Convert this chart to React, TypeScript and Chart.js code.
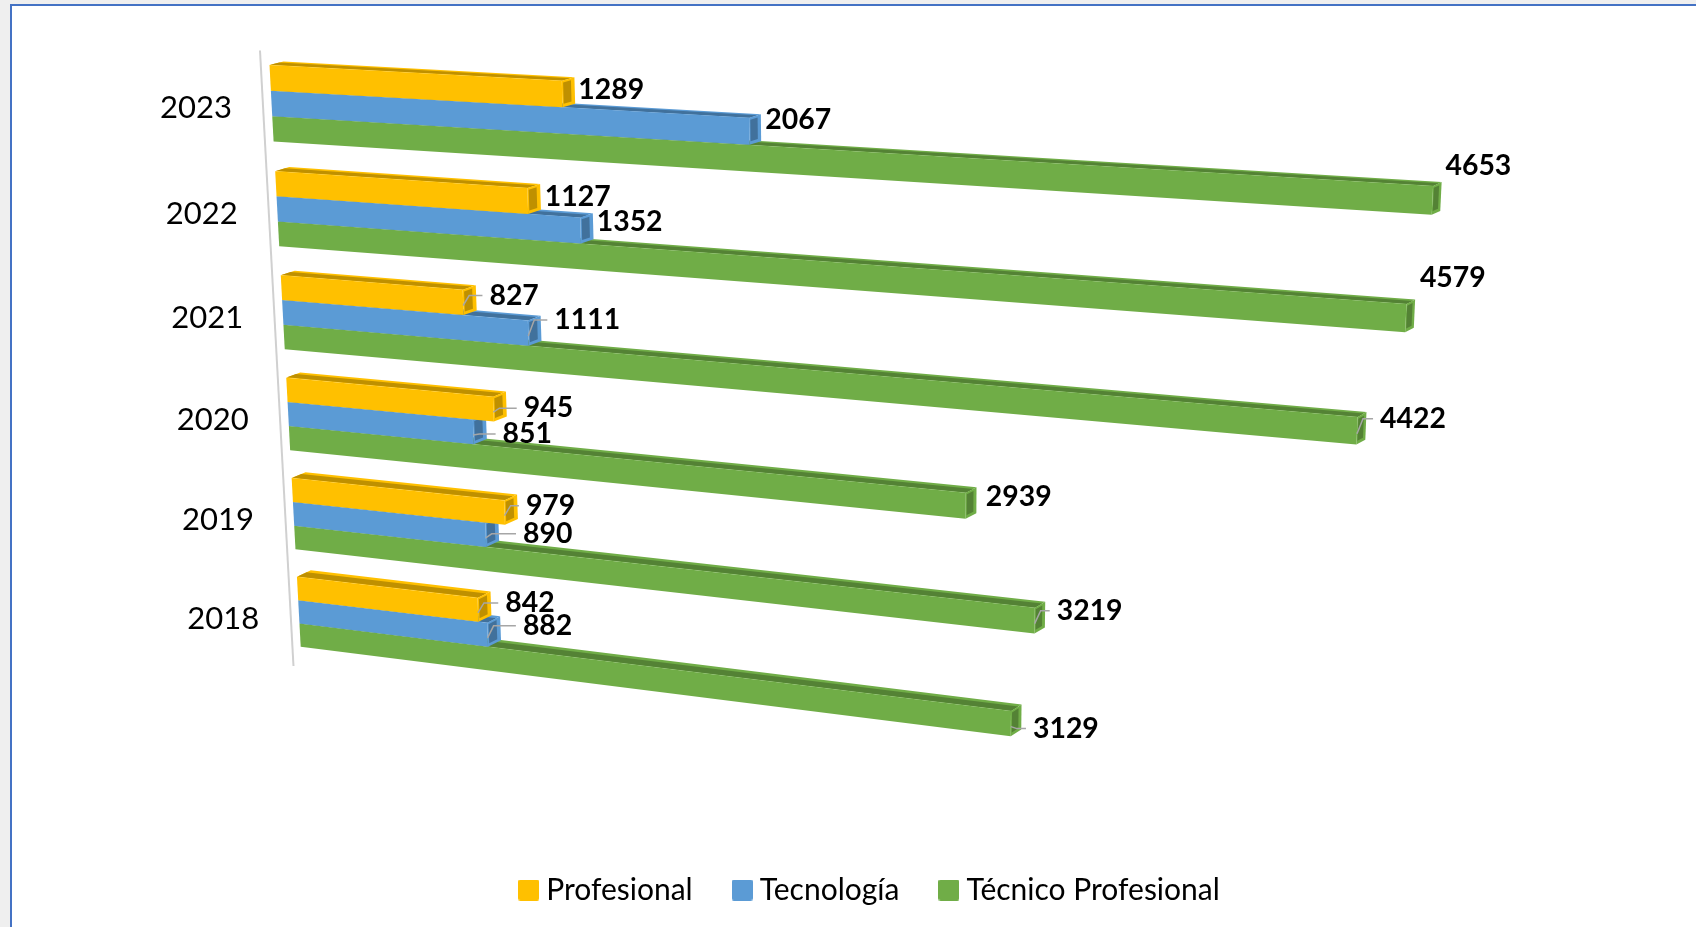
import React, { useEffect, useRef } from "react";
import { Chart, registerables } from "chart.js";

Chart.register(...registerables);

const years = ["2023", "2022", "2021", "2020", "2019", "2018"];
const profesional = [1289, 1127, 827, 945, 979, 842];
const tecnologia = [2067, 1352, 1111, 851, 890, 882];
const tecnicoProfesional = [4653, 4579, 4422, 2939, 3219, 3129];

const COLORS = ["#FFC000", "#5B9BD5", "#70AD47"];
const DARK = ["#BF9000", "#41719C", "#548235"];

// Hand-placed label offsets from the end of each bar: [dx, dy, has leader line]
const offsetsProfesional: [number, number, boolean][] = [[49, -4, false], [50, -4, false], [51, -7, true], [55, -1, true], [46, -7, true], [52, -7, true]];
const offsetsTecnologia: [number, number, boolean][] = [[49, -12, false], [49, -9, false], [59, -13, true], [54, 2, true], [62, -1, true], [60, -9, true]];
const offsetsTecnico: [number, number, boolean][] = [[46, -35, false], [47, -40, false], [56, -12, true], [53, -9, false], [55, -10, true], [55, 5, true]];
const allOffsets = [offsetsProfesional, offsetsTecnologia, offsetsTecnico];

// Perspective view: where the plot rectangle's corners land on screen
const VIEW = { tl: [269.5, 65], tr: [1536.7, 133], br: [1498.7, 797.6], bl: [300.7, 646.7] };

function makeProjector(q: typeof VIEW) {
  const [x0, y0] = q.tl, [x1, y1] = q.tr, [x2, y2] = q.br, [x3, y3] = q.bl;
  const dx1 = x1 - x2, dx2 = x3 - x2, sx = x0 - x1 + x2 - x3;
  const dy1 = y1 - y2, dy2 = y3 - y2, sy = y0 - y1 + y2 - y3;
  const den = dx1 * dy2 - dx2 * dy1;
  const g = (sx * dy2 - dx2 * sy) / den;
  const h = (dx1 * sy - sx * dy1) / den;
  const a = x1 - x0 + g * x1, b = x3 - x0 + h * x3;
  const d = y1 - y0 + g * y1, e = y3 - y0 + h * y3;
  return (s: number, t: number): [number, number] => {
    const w = g * s + h * t + 1;
    return [(a * s + b * t + x0) / w, (d * s + e * t + y0) / w];
  };
}

const poly = (ctx: CanvasRenderingContext2D, pts: number[][], fill: string) => {
  ctx.beginPath();
  pts.forEach((p, i) => (i ? ctx.lineTo(p[0], p[1]) : ctx.moveTo(p[0], p[1])));
  ctx.closePath();
  ctx.fillStyle = fill;
  ctx.fill();
};

const lerp = (a: number[], b: number[], k: number) => [a[0] + (b[0] - a[0]) * k, a[1] + (b[1] - a[1]) * k];

const perspectivePlugin = {
  id: "perspective",
  beforeDatasetsDraw(chart: any) {
    const ctx: CanvasRenderingContext2D = chart.ctx;
    const xs = chart.scales.x, ys = chart.scales.y;
    const metas = [0, 1, 2].map((i) => chart.getDatasetMeta(i).data);
    const first = metas[0][0], last = metas[2][metas[2].length - 1];
    const ya = first.y - first.height / 2, yb = last.y + last.height / 2;
    const span = yb - ya;
    const project = makeProjector(VIEW);
    const P = (px: number, py: number) =>
      project((px - xs.getPixelForValue(0)) / (xs.getPixelForValue(xs.max) - xs.getPixelForValue(0)), (py - ya) / span);
    const depth = (p: number[], t: number) => [p[0] + 14 - 0.0047 * (p[0] - 270), p[1] - 3.5 - 3.3 * t];

    // axis wall line
    const a1 = P(xs.getPixelForValue(-40), ya - span * 0.023), a2 = P(xs.getPixelForValue(-40), yb + span * 0.037);
    ctx.save();
    ctx.strokeStyle = "#D0D0D0";
    ctx.lineWidth = 2;
    ctx.beginPath();
    ctx.moveTo(a1[0], a1[1]);
    ctx.lineTo(a2[0], a2[1]);
    ctx.stroke();

    // category labels
    ctx.font = "31px Lato";
    ctx.fillStyle = "#000";
    ctx.textAlign = "center";
    ctx.textBaseline = "middle";
    years.forEach((label, i) => {
      const p = P(xs.getPixelForValue(0), ys.getPixelForValue(i));
      ctx.fillText(label, p[0] - 75.5, p[1] + 5 + i * 0.4);
    });

    // bars, back to front
    years.forEach((_, i) => {
      for (let ds = 2; ds >= 0; ds--) {
        const el = metas[ds][i];
        const top = el.y - el.height / 2, bot = el.y + el.height / 2;
        const tRow = (top - ya) / span;
        const fl = P(el.base, top), fr = P(el.x, top), brr = P(el.x, bot), bll = P(el.base, bot);
        const bl = depth(fl, tRow), br = depth(fr, tRow), be = depth(brr, tRow);
        // top face
        poly(ctx, [fl, bl, br, fr], COLORS[ds]);
        poly(ctx, [lerp(fl, bl, 0.05), lerp(fl, bl, 0.7), lerp(fr, br, 0.7), lerp(fr, br, 0.05)], DARK[ds]);
        // end face
        poly(ctx, [fr, br, be, brr], COLORS[ds]);
        const i1 = lerp(fr, brr, 0.08), i2 = lerp(br, be, 0.08), i3 = lerp(br, be, 0.88), i4 = lerp(fr, brr, 0.88);
        poly(ctx, [lerp(i1, i2, 0.1), lerp(i1, i2, 0.72), lerp(i4, i3, 0.72), lerp(i4, i3, 0.1)], DARK[ds]);
        // front face
        poly(ctx, [fl, fr, brr, bll], COLORS[ds]);
      }
    });

    // data labels and leader lines
    ctx.font = "bold 28.4px Lato";
    ctx.textAlign = "center";
    [profesional, tecnologia, tecnicoProfesional].forEach((vals, ds) => {
      vals.forEach((v, i) => {
        const el = metas[ds][i];
        const end = P(el.x, el.y);
        const [dx, dy, leader] = allOffsets[ds][i];
        const lx = end[0] + dx, ly = end[1] + dy;
        const txt = String(v);
        if (leader) {
          const w = ctx.measureText(txt).width;
          ctx.strokeStyle = "#A6A6A6";
          ctx.lineWidth = 1.5;
          ctx.beginPath();
          ctx.moveTo(end[0], end[1] + 3);
          ctx.lineTo(end[0] + 6, ly);
          ctx.lineTo(lx - w / 2 - 7, ly);
          ctx.stroke();
        }
        ctx.fillStyle = "#000";
        ctx.fillText(txt, lx, ly);
      });
    });
    ctx.restore();
    return false;
  },
};

function legendSwatch(color: string) {
  const c = document.createElement("canvas");
  c.width = 21;
  c.height = 21;
  const g = c.getContext("2d")!;
  g.fillStyle = color;
  g.beginPath();
  g.roundRect(0, 0, 21, 21, 2);
  g.fill();
  return c;
}

export default function App() {
  const ref = useRef<HTMLCanvasElement>(null);
  useEffect(() => {
    const chart = new Chart(ref.current!, {
      type: "bar",
      data: {
        labels: years,
        datasets: [
          { label: "Profesional", data: profesional, backgroundColor: COLORS[0] },
          { label: "Tecnología", data: tecnologia, backgroundColor: COLORS[1] },
          { label: "Técnico Profesional", data: tecnicoProfesional, backgroundColor: COLORS[2] },
        ],
      },
      options: {
        indexAxis: "y",
        responsive: false,
        animation: false,
        layout: { padding: { left: 50, right: 0, top: 60, bottom: 12 } },
        datasets: { bar: { barPercentage: 1, categoryPercentage: 0.72 } },
        scales: {
          x: { display: false, min: 0, max: 5000 },
          y: { display: false },
        },
        plugins: {
          tooltip: { enabled: false },
          legend: {
            position: "bottom",
            labels: {
              font: { family: "Lato", size: 30 },
              color: "#000",
              padding: 47,
              usePointStyle: true,
              pointStyleWidth: 5,
              generateLabels(c: any) {
                return Chart.defaults.plugins.legend.labels.generateLabels(c).map((l: any, i: number) => ({
                  ...l,
                  pointStyle: legendSwatch(COLORS[i]),
                }));
              },
            },
          },
        },
      },
      plugins: [perspectivePlugin],
    } as any);
    return () => chart.destroy();
  }, []);
  return (
    <div style={{ position: "absolute", left: 0, top: 0, width: 1696, height: 927, background: "#EFEFEF", overflow: "hidden" }}>
      <div style={{ position: "absolute", left: 9.5, top: 3.5, right: 0, bottom: 0, background: "#fff", borderLeft: "2.5px solid #4472C4", borderTop: "2.5px solid #4472C4" }} />
      <canvas ref={ref} width={1696} height={927} style={{ position: "absolute", left: 0, top: 0 }} />
    </div>
  );
}
